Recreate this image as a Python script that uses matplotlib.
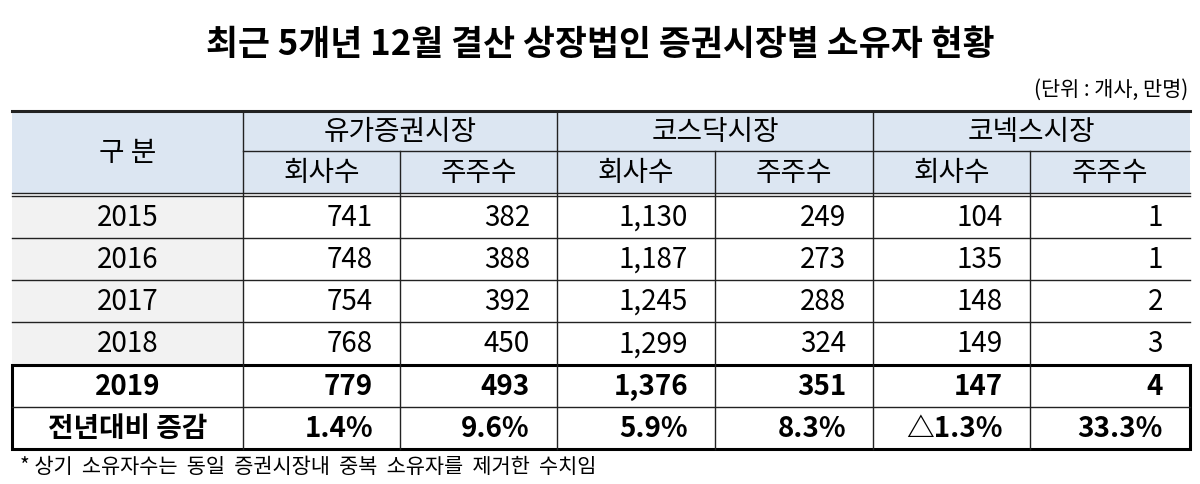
import matplotlib
matplotlib.use("Agg")
import matplotlib.pyplot as plt
from matplotlib.patches import Rectangle

plt.rcParams['font.family'] = ['Noto Sans CJK KR', 'DejaVu Sans']

title = "최근 5개년 12월 결산 상장법인 증권시장별 소유자 현황"
unit = "(단위 : 개사, 만명)"
markets = ["유가증권시장", "코스닥시장", "코넥스시장"]
subheads = ["회사수", "주주수"]
years = ["2015", "2016", "2017", "2018", "2019"]
kospi_cos = [741, 748, 754, 768, 779]
kospi_sh = [382, 388, 392, 450, 493]
kosdaq_cos = [1130, 1187, 1245, 1299, 1376]
kosdaq_sh = [249, 273, 288, 324, 351]
konex_cos = [104, 135, 148, 149, 147]
konex_sh = [1, 1, 2, 3, 4]
change_label = "전년대비 증감"
changes = ["1.4%", "9.6%", "5.9%", "8.3%", "△1.3%", "33.3%"]
footnote = "* 상기  소유자수는  동일  증권시장내  중복  소유자를  제거한  수치임"

fig = plt.figure(figsize=(12, 4.85), dpi=100)
ax = fig.add_axes([0, 0, 1, 1])
ax.set_xlim(0, 1200); ax.set_ylim(485, 0); ax.axis('off')

xs = [12, 243, 400, 557, 715, 873, 1030, 1190]
hy = [112, 152, 195]
rows = [197, 239, 281, 323, 366, 408, 450]
fs = 20
hdr = '#DCE6F2'; gray = '#F2F2F2'

ax.text(600, 45, title, ha='center', va='center', fontsize=25, fontweight='bold')
ax.text(1188, 90, unit, ha='right', va='center', fontsize=15)

ax.add_patch(Rectangle((xs[0], hy[0]), xs[-1]-xs[0], hy[2]-hy[0], fc=hdr, ec='none'))
ax.add_patch(Rectangle((xs[0], rows[0]), xs[1]-xs[0], rows[4]-rows[0], fc=gray, ec='none'))

lw = 1.0; c = '#222222'
ax.plot([xs[0], xs[-1]], [hy[0], hy[0]], color=c, lw=2.2)
ax.plot([xs[1], xs[-1]], [hy[1], hy[1]], color=c, lw=lw)
ax.plot([xs[0], xs[-1]], [hy[2]-1.5, hy[2]-1.5], color=c, lw=lw)
ax.plot([xs[0], xs[-1]], [hy[2]+1.5, hy[2]+1.5], color=c, lw=lw)
for r in rows[1:4]:
    ax.plot([xs[0], xs[-1]], [r, r], color=c, lw=lw)
for i, x in enumerate(xs[1:-1], start=1):
    top = hy[0] if i % 2 == 1 else hy[1]
    ax.plot([x, x], [top, rows[-1]], color=c, lw=lw)
ax.plot([xs[0], xs[-1]], [rows[5], rows[5]], color=c, lw=lw)
ax.add_patch(Rectangle((xs[0], rows[4]), xs[-1]-xs[0], rows[6]-rows[4], fc='none', ec='black', lw=2.2))

ax.text((xs[0]+xs[1])/2, (hy[0]+hy[2])/2, "구 분", ha='center', va='center', fontsize=fs)
for m, name in enumerate(markets):
    x0, x1, x2 = xs[1+2*m], xs[2+2*m], xs[3+2*m]
    ax.text((x0+x2)/2, (hy[0]+hy[1])/2, name, ha='center', va='center', fontsize=fs)
    for k, s in enumerate(subheads):
        a, b = (x0, x1) if k == 0 else (x1, x2)
        ax.text((a+b)/2, (hy[1]+hy[2])/2, s, ha='center', va='center', fontsize=fs)

pad = 27
cols = [kospi_cos, kospi_sh, kosdaq_cos, kosdaq_sh, konex_cos, konex_sh]
for i, y in enumerate(years):
    yc = (rows[i]+rows[i+1])/2
    bold = 'bold' if i == 4 else 'normal'
    ax.text((xs[0]+xs[1])/2, yc, y, ha='center', va='center', fontsize=fs, fontweight=bold)
    for j, col in enumerate(cols):
        ax.text(xs[j+2]-pad, yc, f"{col[i]:,}", ha='right', va='center', fontsize=fs, fontweight=bold)
yc = (rows[5]+rows[6])/2
ax.text((xs[0]+xs[1])/2, yc, change_label, ha='center', va='center', fontsize=fs, fontweight='bold')
for j, v in enumerate(changes):
    ax.text(xs[j+2]-pad, yc, v, ha='right', va='center', fontsize=fs, fontweight='bold')

ax.text(20, 467, footnote, ha='left', va='center', fontsize=15)
fig.savefig("out.png", dpi=100, facecolor='white')
